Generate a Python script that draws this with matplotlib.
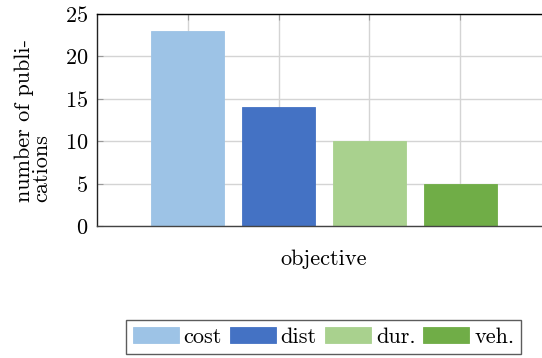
import matplotlib
matplotlib.use("Agg")
import matplotlib.pyplot as plt

plt.rcParams['font.family'] = ['cmr10', 'DejaVu Serif']
plt.rcParams['axes.formatter.use_mathtext'] = True
plt.rcParams['font.size'] = 16

labels = ['cost', 'dist', 'dur.', 'veh.']
counts = [23, 14, 10, 5]
colors = ['#9dc3e6', '#4472c4', '#a9d18e', '#70ad47']
yticks = [0, 5, 10, 15, 20, 25]

fig = plt.figure(figsize=(5.42, 3.58), dpi=100)
# axes runs a little past the right edge of the canvas
ax = fig.add_axes([97 / 542, 1 - 226 / 358, 454 / 542, 212 / 358])

for i, (lab, c, col) in enumerate(zip(labels, counts, colors)):
    ax.bar(i, c, width=0.8, color=col, edgecolor=col, linewidth=0.6,
           label=lab, zorder=2)

ax.set_xlim(-1, 4)
ax.set_ylim(0, 25)
ax.set_yticks(yticks)
ax.set_xticks(range(len(labels)))
ax.set_xticklabels([])
ax.grid(True, color='#d4d4d4', linewidth=1.0)
ax.set_axisbelow(True)
ax.tick_params(direction='in', length=4, width=0.8, color='#999999',
               top=True, bottom=False, pad=6.5)

ax.spines['top'].set_color('black')
ax.spines['left'].set_color('#222222')
ax.spines['bottom'].set_color('#444444')
for s in ax.spines.values():
    s.set_linewidth(1.0)

fig.text(33 / 542, 1 - 120 / 358, 'number of publi-\ncations', rotation=90,
         ha='center', va='center', multialignment='left', linespacing=0.9)
fig.text(323.5 / 542, 1 - 259 / 358, 'objective', ha='center', va='center')

leg = fig.legend(loc='center', bbox_to_anchor=(323.5 / 542, 1 - 337 / 358),
                 ncol=4, frameon=True, fancybox=False, edgecolor='#333333',
                 handlelength=2.07, handleheight=0.72, handletextpad=0.22,
                 columnspacing=0.36, borderpad=0.3, borderaxespad=0)
leg.get_frame().set_linewidth(1.0)

fig.savefig('out.png', dpi=100)
